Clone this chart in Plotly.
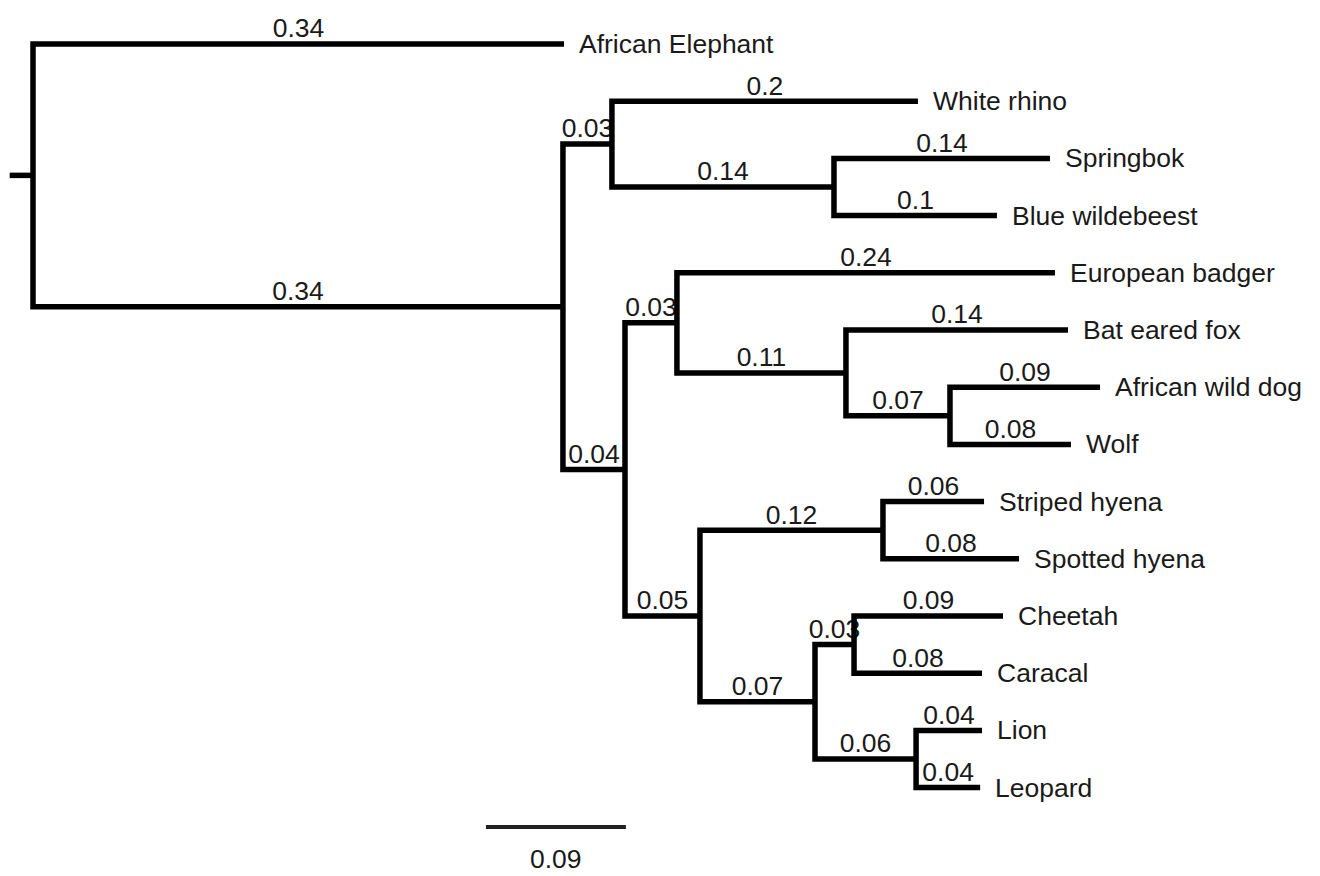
import plotly.graph_objects as go

# ---- tree data ----
node_name = ["root", "African Elephant", "A", "B", "White rhino", "C", "Springbok",
             "Blue wildebeest", "D", "E", "European badger", "F", "Bat eared fox", "G",
             "African wild dog", "Wolf", "H", "I", "Striped hyena", "Spotted hyena",
             "J", "K", "Cheetah", "Caracal", "L", "Lion", "Leopard"]
node_parent = [None, "root", "root", "A", "B", "B", "C",
               "C", "A", "D", "E", "E", "F", "F",
               "G", "G", "D", "H", "I", "I",
               "H", "J", "K", "K", "J", "L", "L"]
branch_length = [0.0, 0.3415, 0.3408, 0.0315, 0.1968, 0.1428, 0.1389,
                 0.1048, 0.0399, 0.0334, 0.2431, 0.1087, 0.1428, 0.0669,
                 0.0965, 0.0778, 0.0482, 0.1177, 0.0650, 0.0875,
                 0.0740, 0.0251, 0.0958, 0.0823, 0.0650, 0.0424, 0.0412]
branch_label = ["", "0.34", "0.34", "0.03", "0.2", "0.14", "0.14",
                "0.1", "0.04", "0.03", "0.24", "0.11", "0.14", "0.07",
                "0.09", "0.08", "0.05", "0.12", "0.06", "0.08",
                "0.07", "0.03", "0.09", "0.08", "0.06", "0.04", "0.04"]
root_stub = 0.015
scale_value = 0.09
scale_text = "0.09"

# ---- layout computation ----
children = {n: [] for n in node_name}
for n, p in zip(node_name, node_parent):
    if p is not None:
        children[p].append(n)
blen = dict(zip(node_name, branch_length))
blab = dict(zip(node_name, branch_label))

X, Y = {}, {}
leaf_counter = [0]


def place(n, x0):
    X[n] = x0 + blen[n]
    if not children[n]:
        Y[n] = leaf_counter[0]
        leaf_counter[0] += 1
    else:
        for c in children[n]:
            place(c, X[n])
        Y[n] = (Y[children[n][0]] + Y[children[n][-1]]) / 2.0


place("root", 0.0)
parent_of = dict(zip(node_name, node_parent))

# lines
lx, ly = [], []
lx += [-root_stub, X["root"], None]
ly += [Y["root"], Y["root"], None]
for n in node_name:
    ch = children[n]
    if ch:
        c1, c2 = ch[0], ch[-1]
        lx += [X[c1], X[n], X[n], X[c2], None]
        ly += [Y[c1], Y[c1], Y[c2], Y[c2], None]

# branch labels
tx, ty, tt = [], [], []
for n in node_name:
    p = parent_of[n]
    if p is None:
        continue
    tx.append((X[p] + X[n]) / 2.0)
    ty.append(Y[n])
    tt.append(blab[n])

FONT = "Liberation Sans, Arial, sans-serif"
FS = 26.5
TXT = "#1a1a1a"

fig = go.Figure()
fig.add_trace(go.Scatter(x=tx, y=ty, text=tt, mode="text", textposition="top center",
                         textfont=dict(family=FONT, size=FS, color=TXT),
                         hoverinfo="skip", cliponaxis=False, showlegend=False))
fig.add_trace(go.Scatter(x=lx, y=ly, mode="lines",
                         line=dict(color="black", width=5.5),
                         hoverinfo="skip", showlegend=False))

# scale bar
n_leaves = leaf_counter[0]
sb_x0 = 0.2913
sb_y = n_leaves - 1 + 0.69
fig.add_trace(go.Scatter(x=[sb_x0, sb_x0 + scale_value], y=[sb_y, sb_y], mode="lines",
                         line=dict(color="#222222", width=4),
                         hoverinfo="skip", showlegend=False))

annotations = []
for n in node_name:
    if not children[n]:
        annotations.append(dict(x=X[n], y=Y[n], text=n, showarrow=False,
                                xanchor="left", yanchor="middle", xshift=13,
                                font=dict(family=FONT, size=FS, color=TXT)))
annotations.append(dict(x=sb_x0 + scale_value / 2, y=sb_y, text=scale_text, showarrow=False,
                        xanchor="center", yanchor="top", yshift=-15,
                        font=dict(family=FONT, size=FS, color=TXT)))

k = 1555.0
fig.update_layout(
    width=1320, height=876,
    margin=dict(l=0, r=0, t=0, b=0),
    paper_bgcolor="white", plot_bgcolor="white",
    xaxis=dict(visible=False, range=[-33 / k, (1320 - 33) / k]),
    yaxis=dict(visible=False, range=[(876 - 44) / 57.2, -44 / 57.2]),
    annotations=annotations,
    showlegend=False,
)
fig.write_html("out.html")
